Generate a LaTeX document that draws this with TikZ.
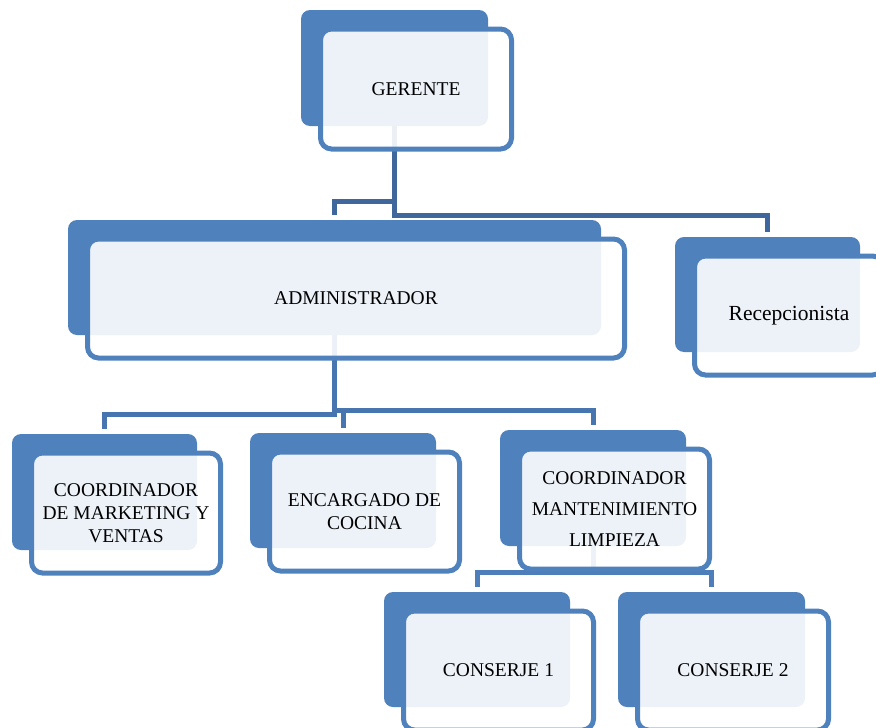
\documentclass[tikz,border=0pt]{standalone}
\usepackage{fontspec}
\setmainfont{Liberation Serif}
\usetikzlibrary{calc}
\definecolor{boxblue}{HTML}{4F81BD}
\definecolor{connA}{HTML}{40679C}
\definecolor{connB}{HTML}{4775AF}
\definecolor{connC}{HTML}{4E7EBA}
\tikzset{
  backbox/.style={fill=boxblue, draw=none, rounded corners=9pt, inner sep=0pt},
  frontbox/.style={draw=boxblue, line width=5pt, fill=white, fill opacity=0.9, text opacity=1,
     rounded corners=11pt, inner sep=0pt, align=center, text=black,
     font=\fontsize{19.5}{23}\selectfont},
  conn/.style={line width=5pt, shorten >=5pt},
}
% #1 extra options for front, #2 name, #3 x1, #4 y1, #5 x2, #6 y2 (back box, px, y down), #7 text
\newcommand\orgunit[7][]{%
  \node[backbox, minimum width={#5-#3}, minimum height={#6-#4}] (#2b) at ({(#3+#5)/2},{(#4+#6)/2}) {};
  \node[frontbox, minimum width={#5-#3+9-5}, minimum height={#6-#4+9-5}, #1] (#2)
     at ({(#3+#5)/2+21.5},{(#4+#6)/2+21}) {#7};
}
\begin{document}
\begin{tikzpicture}[x=1pt,y=-1pt]
\useasboundingbox (0,0) rectangle (876,728);
\clip (0,0) rectangle (876,728);
% connectors (drawn first, under the boxes)
\coordinate (gtop) at (394.5,126);
\coordinate (atop) at (334.5,335);
\coordinate (ctop) at (593,546);
\draw[conn, connA] (gtop) -- (394.5,201) -| (334.5,220);
\draw[conn, connA] (gtop) -- (394.5,215) -| (767.5,237);
\draw[conn, connB] (atop) -- (334.5,414) -| (104.5,434);
\draw[conn, connB] (atop) -- (334.5,410) -| (343,433);
\draw[conn, connB] (atop) -- (334.5,410) -| (593,430);
\draw[conn, connC] (ctop) -- (593,572) -| (477,592);
\draw[conn, connC] (ctop) -- (593,572) -| (711.5,592);
% boxes
\orgunit{g}{301}{10}{488}{126}{GERENTE}
\orgunit{a}{68}{220}{601}{335}{ADMINISTRADOR}
\orgunit[font=\fontsize{21.5}{23}\selectfont]{r}{675}{237}{860}{352}{Recepcionista}
\orgunit{m}{12}{434}{197}{550}{COORDINADOR\\DE MARKETING Y\\VENTAS}
\orgunit{e}{250}{433}{436}{548}{ENCARGADO DE\\COCINA}
\orgunit[font=\fontsize{19.5}{31}\selectfont]{c}{500}{430}{686}{546}{COORDINADOR\\MANTENIMIENTO\\LIMPIEZA}
\orgunit{k1}{384}{592}{570}{707}{CONSERJE 1}
\orgunit{k2}{618}{592}{805}{707}{CONSERJE 2}
\end{tikzpicture}
\end{document}
